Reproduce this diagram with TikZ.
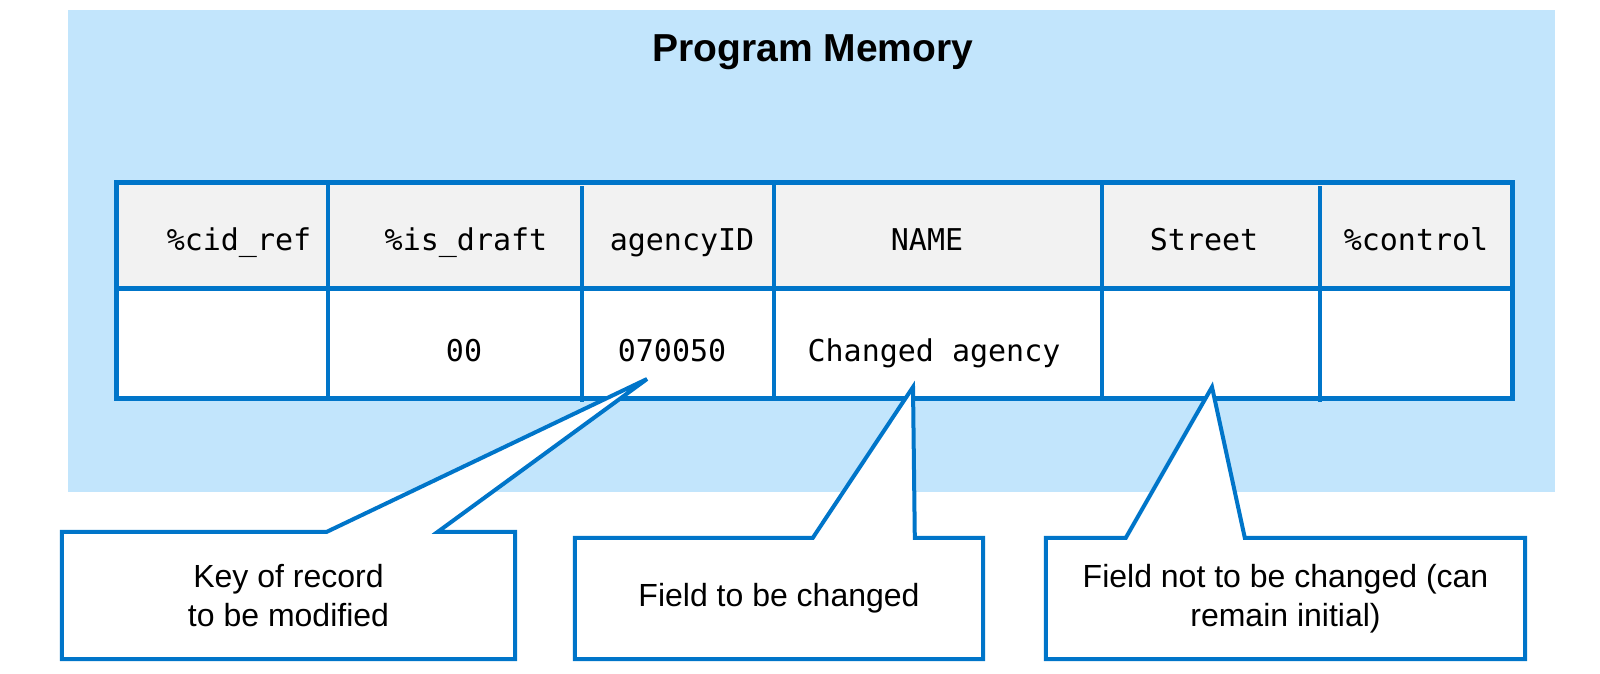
\documentclass[tikz,border=0pt]{standalone}
\usepackage{fontspec}
\setmainfont{Liberation Sans}
\setmonofont{DejaVu Sans Mono}
\usetikzlibrary{positioning, calc, backgrounds}
\definecolor{memblue}{HTML}{C2E5FC}
\definecolor{linkblue}{HTML}{0075C9}
\definecolor{headgray}{HTML}{F2F2F2}
\pgfdeclarelayer{panel}
\pgfsetlayers{panel,background,main}

\begin{document}
\begin{tikzpicture}[x=1pt, y=-1pt,
    field/.style={font=\fontsize{30}{36}\selectfont\ttfamily, anchor=base, inner sep=0pt},
    grid/.style={draw=linkblue, line width=4pt},
    frame/.style={draw=linkblue, line width=5pt},
    note/.style={rectangle, inner sep=0pt, align=center,
      font=\fontsize{32}{39}\selectfont},
    callout/.style={draw=linkblue, line width=4pt, fill=white, line join=miter}]

    \useasboundingbox (0,0) rectangle (1600,673);

    \begin{pgfonlayer}{panel}
    % Memory panel
    \node (mem) [fill=memblue, inner sep=0pt, minimum width=1487pt, minimum height=482pt,
      anchor=north west] at (68,10) {};

    % Record table
    \fill[headgray] (116,182) rectangle (1512,288);
    \fill[white] (116,288) rectangle (1512,398);
    \draw[grid] (328,182) -- (328,398);
    \draw[grid] (582,186) -- (582,402);
    \draw[grid] (774,182) -- (774,398);
    \draw[grid] (1102,182) -- (1102,398);
    \draw[grid] (1320,186) -- (1320,402);
    \draw[frame] (116,288) -- (1512,288);
    \draw[frame] (116,182) rectangle (1512,398);
    \end{pgfonlayer}

    \node (title) [font=\fontsize{39}{47}\selectfont\bfseries, anchor=base] at (813,61) {Program Memory};

    % Header row
    \node (hcid) [field] at (239,250) {\%cid\_ref};
    \node (hdraft) [field] at (466,250) {\%is\_draft};
    \node (hagency) [field] at (682,250) {agencyID};
    \node (hname) [field] at (927,250) {NAME};
    \node (hstreet) [field] at (1204,250) {Street};
    \node (hcontrol) [field] at (1416,250) {\%control};

    % Data row
    \node (ddraft) [field] at (464,361) {00};
    \node (dagency) [field] at (672,361) {070050};
    \node (dname) [field] at (934,361) {Changed agency};

    % Callouts
    \node (keybox) [note, minimum width=453pt, minimum height=127pt] at (288.5,595.5)
      {Key of record\\to be modified};
    \node (chgbox) [note, minimum width=408pt, minimum height=121pt] at (779,598.5)
      {Field to be changed};
    \node (keepbox) [note, minimum width=479pt, minimum height=121pt] at (1285.5,598.5)
      {Field not to be changed (can\\remain initial)};

    \coordinate (keytip) at (647,379);
    \coordinate (chgtip) at (913,387);
    \coordinate (keeptip) at (1212,387);

    \begin{scope}[on background layer]
    \draw[callout] (keybox.south west) -- (keybox.north west)
      -- ([xshift=265pt]keybox.north west) -- (keytip) -- ([xshift=376pt]keybox.north west)
      -- (keybox.north east) -- (keybox.south east) -- cycle;
    \draw[callout] (chgbox.south west) -- (chgbox.north west)
      -- ([xshift=238pt]chgbox.north west) -- (chgtip) -- ([xshift=340pt]chgbox.north west)
      -- (chgbox.north east) -- (chgbox.south east) -- cycle;
    \draw[callout] (keepbox.south west) -- (keepbox.north west)
      -- ([xshift=80pt]keepbox.north west) -- (keeptip) -- ([xshift=199pt]keepbox.north west)
      -- (keepbox.north east) -- (keepbox.south east) -- cycle;
    \end{scope}
\end{tikzpicture}
\end{document}
